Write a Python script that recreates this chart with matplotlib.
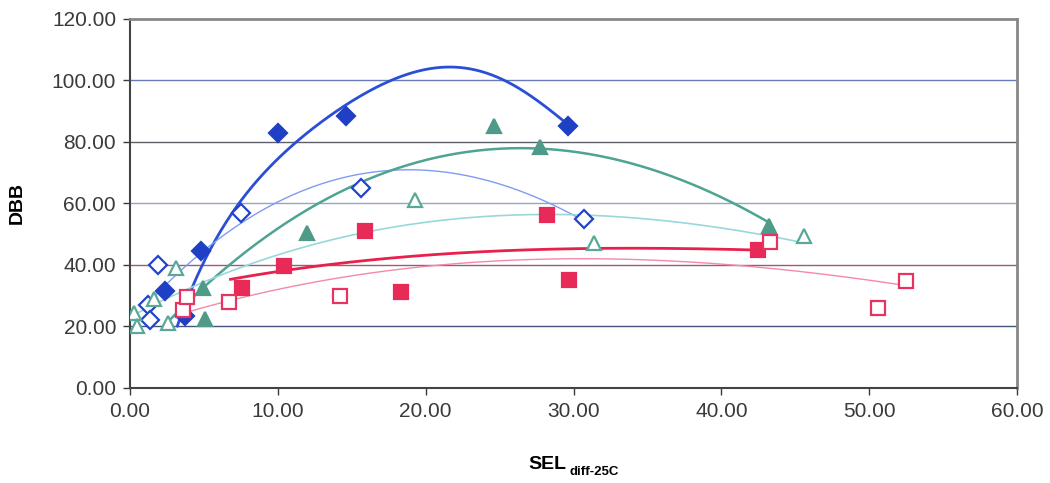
import numpy as np
import matplotlib.pyplot as plt

plt.rcParams['font.family'] = ['Liberation Sans', 'DejaVu Sans']

# --- measured points ----------------------------------------------------
# filled diamonds
fd_x = [2.4, 3.7, 4.8, 10.0, 14.6, 29.6]
fd_y = [31.5, 23.3, 44.5, 82.8, 88.6, 85.2]
# open diamonds
od_x = [1.2, 1.35, 1.9, 7.5, 15.65, 30.7]
od_y = [27.0, 22.2, 40.0, 57.0, 64.9, 55.0]
# filled triangles
ft_x = [4.95, 5.1, 12.0, 24.6, 27.75, 43.2]
ft_y = [32.5, 22.4, 50.5, 85.3, 78.5, 52.7]
# open triangles
ot_x = [0.3, 0.5, 1.6, 2.6, 3.1, 19.3, 31.4, 45.6]
ot_y = [24.4, 20.0, 29.0, 21.2, 39.0, 61.0, 47.2, 49.4]
# filled squares
fs_x = [7.6, 10.4, 15.9, 18.3, 28.2, 29.7, 42.5]
fs_y = [32.4, 39.6, 51.0, 31.3, 56.3, 35.1, 44.9]
# open squares
os_x = [3.6, 3.85, 6.7, 14.2, 43.3, 50.6, 52.5]
os_y = [25.4, 29.7, 28.0, 30.0, 47.6, 25.9, 34.8]

# --- trendline readings (x, y along each fitted curve) ------------------
fd_tx = [3.2, 4.0, 4.95, 7.5, 10.0, 11.0, 15.1, 17.0, 20.3, 23.0, 25.0, 27.8, 29.6]
fd_ty = [18.0, 32.0, 43.0, 58.0, 74.0, 80.0, 93.7, 99.6, 103.2, 103.0, 100.8, 93.7, 85.2]
od_tx = [1.15, 6.55, 7.5, 10.6, 15.1, 16.9, 19.2, 20.3, 23.7, 27.1, 29.6, 30.7]
od_ty = [27.5, 48.0, 55.7, 62.2, 68.2, 70.3, 71.8, 71.4, 67.6, 62.2, 56.8, 55.0]
ft_tx = [2.4, 5.2, 6.1, 8.8, 12.0, 16.5, 19.7, 22.6, 25.5, 28.9, 31.6, 35.0, 38.4, 41.4, 43.2]
ft_ty = [20.5, 33.0, 38.4, 47.6, 59.0, 68.2, 73.1, 76.3, 77.9, 77.9, 76.3, 70.9, 65.5, 59.0, 53.6]
ot_tx = [0.3, 4.7, 6.8, 15.1, 16.9, 22.6, 28.2, 33.9, 39.5, 45.2, 45.6]
ot_ty = [23.5, 33.5, 39.5, 49.2, 50.8, 55.3, 57.0, 55.7, 51.9, 47.6, 47.3]
fs_tx = [6.8, 7.7, 10.8, 16.9, 23.7, 30.5, 37.3, 42.5]
fs_ty = [35.0, 36.2, 39.0, 41.5, 44.3, 45.4, 45.4, 44.8]
os_tx = [3.8, 7.0, 11.5, 16.9, 21.5, 28.2, 35.0, 39.5, 44.1, 47.6, 52.5]
os_ty = [24.5, 28.6, 34.1, 37.3, 40.5, 41.8, 41.4, 40.5, 38.9, 36.5, 33.2]

x_ticks = [0, 10, 20, 30, 40, 50, 60]
y_ticks = [0, 20, 40, 60, 80, 100, 120]

fig = plt.figure(figsize=(10.5, 4.83), dpi=100)
ax = fig.add_axes([0.1238, 0.1967, 0.8448, 0.764])

# horizontal gridlines, each a slightly different tint
grid_cols = {20: '#44547a', 40: '#9a5a7c', 60: '#90a8c4', 80: '#5e5e66', 100: '#6a7ab8'}
for yv, c in grid_cols.items():
    ax.axhline(yv, color=c, lw=1.0, zorder=1)

def trend(tx, ty, deg, color, lw):
    # polynomial trendline over the readings' range
    c = np.polyfit(tx, ty, deg)
    xs = np.linspace(min(tx), max(tx), 300)
    ax.plot(xs, np.polyval(c, xs), color=color, lw=lw, zorder=2)

series = [
    (fd_x, fd_y, fd_tx, fd_ty, 'D', True,  '#1f3fc4', '#2a4fd6', 2.0, 5, 9),
    (od_x, od_y, od_tx, od_ty, 'D', False, '#2244cc', '#7f9cf0', 1.0, 3, 9),
    (ft_x, ft_y, ft_tx, ft_ty, '^', True,  '#4f9a88', '#4ea392', 1.8, 3, 10),
    (ot_x, ot_y, ot_tx, ot_ty, '^', False, '#5aa898', '#98d8dc', 1.2, 3, 10),
    (fs_x, fs_y, fs_tx, fs_ty, 's', True,  '#e82a58', '#e8204c', 2.0, 3, 10),
    (os_x, os_y, os_tx, os_ty, 's', False, '#e83262', '#f28aa8', 1.0, 3, 10),
]

for x, y, tx, ty, m, filled, mc, lc, lw, deg, ms in series:
    trend(tx, ty, deg, lc, lw)
    ax.plot(x, y, ls='none', marker=m, ms=ms,
            mfc=mc if filled else 'white', mec=mc, mew=1.6, zorder=3)

ax.set_xlim(0, 60)
ax.set_ylim(0, 120)
ax.set_xticks(x_ticks)
ax.set_yticks(y_ticks)
ax.set_xticklabels([f'{v:.2f}' for v in x_ticks])
ax.set_yticklabels([f'{v:.2f}' for v in y_ticks])
ax.tick_params(labelsize=15, colors='#3a3a3a', length=5, width=1, pad=5)

for s in ('left', 'bottom'):
    ax.spines[s].set_color('#444444')
    ax.spines[s].set_linewidth(1.5)
for s in ('top', 'right'):
    ax.spines[s].set_color('#888888')
    ax.spines[s].set_linewidth(2)

ax.set_ylabel('DBB', fontsize=14, fontweight='bold')
ax.yaxis.set_label_coords(-0.117, 0.5)
fig.text(0.503, 0.03, 'SEL', fontsize=14, fontweight='bold', ha='left', va='baseline')
fig.text(0.542, 0.016, 'diff-25C', fontsize=9.5, fontweight='bold', ha='left', va='baseline')

fig.savefig('out.png', dpi=100)
